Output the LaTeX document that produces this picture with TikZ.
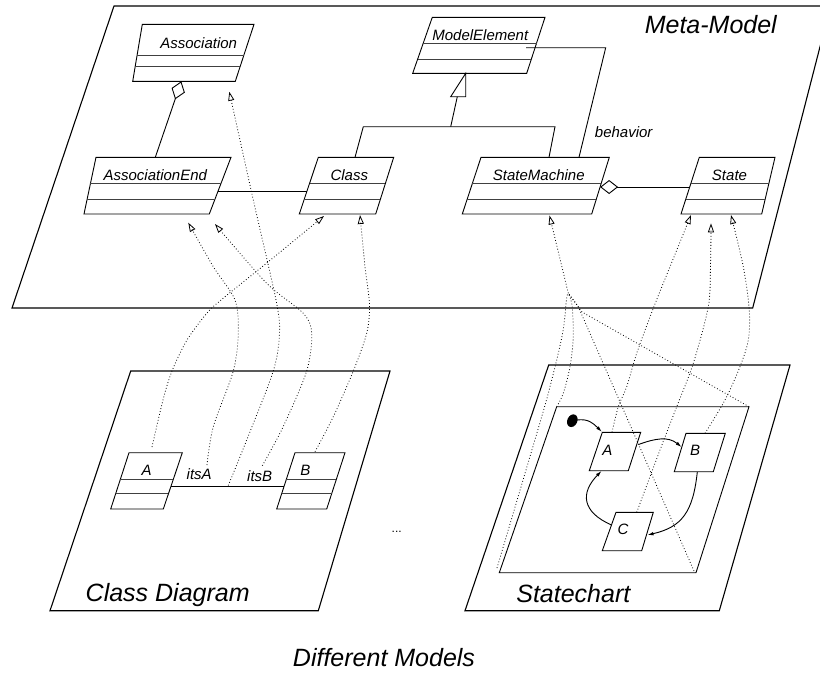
\documentclass[tikz,border=0pt]{standalone}
\usepackage{fontspec}
\setmainfont{Liberation Sans}
\usetikzlibrary{arrows.meta,calc}
\tikzset{
  plane/.style={line width=1.1pt, line join=miter},
  boxline/.style={line width=0.9pt},
  divline/.style={line width=0.9pt, black!75},
  assoc/.style={line width=0.9pt},
  depline/.style={line width=0.8pt, dash pattern=on 0.8pt off 2.2pt},
  dep/.style={depline, -{Triangle[open,length=9pt,width=6pt]}},
  trans/.style={line width=0.9pt, -{Latex[length=6pt,width=3.6pt]}},
  lbl/.style={font=\fontsize{15}{18}\selectfont\itshape, inner sep=0pt, anchor=base},
  ttl/.style={font=\fontsize{25}{30}\selectfont\itshape, inner sep=0pt, anchor=base},
  dots/.style={font=\fontsize{12}{14}\selectfont, inner sep=0pt, anchor=base},
}
\newcommand\umlbox[9]{%
  \coordinate (#1-tl) at (#2,#6);
  \coordinate (#1-tr) at (#3,#6);
  \coordinate (#1-br) at (#4,#7);
  \coordinate (#1-bl) at (#5,#7);
  \draw[boxline] (#1-tl) -- (#1-tr) -- (#1-br) -- (#1-bl) -- cycle;
  \pgfmathsetmacro\umlfa{(#7-#8)/(#7-#6)}%
  \pgfmathsetmacro\umlfb{(#7-#9)/(#7-#6)}%
  \draw[divline] ($(#1-bl)!\umlfa!(#1-tl)$) -- ($(#1-br)!\umlfa!(#1-tr)$);
  \draw[divline] ($(#1-bl)!\umlfb!(#1-tl)$) -- ($(#1-br)!\umlfb!(#1-tr)$);
}
\newcommand\stbox[7]{%
  \coordinate (#1-tl) at (#2,#6);
  \coordinate (#1-tr) at (#3,#6);
  \coordinate (#1-br) at (#4,#7);
  \coordinate (#1-bl) at (#5,#7);
  \draw[boxline] (#1-tl) -- (#1-tr) -- (#1-br) -- (#1-bl) -- cycle;
}
\begin{document}
\begin{tikzpicture}[x=1pt,y=-1pt]
\clip (0,0) rectangle (820,673);
\fill[white] (0,0) rectangle (820,673);

% ---------- planes ----------
\coordinate (mm-tl) at (114,6);
\coordinate (mm-tr) at (830.5,6);
\coordinate (mm-br) at (752.7,308);
\coordinate (mm-bl) at (12,308);
\draw[plane] (mm-tl) -- (mm-tr) -- (mm-br) -- (mm-bl) -- cycle;

\coordinate (cd-tl) at (130.7,371);
\coordinate (cd-tr) at (390,371);
\coordinate (cd-br) at (318.3,610.7);
\coordinate (cd-bl) at (50,610.7);
\draw[plane] (cd-tl) -- (cd-tr) -- (cd-br) -- (cd-bl) -- cycle;

\coordinate (sc-tl) at (548.7,365);
\coordinate (sc-tr) at (790,365);
\coordinate (sc-br) at (719.3,610.7);
\coordinate (sc-bl) at (465,610.7);
\draw[plane] (sc-tl) -- (sc-tr) -- (sc-br) -- (sc-bl) -- cycle;

\coordinate (in-tl) at (556.7,406.7);
\coordinate (in-tr) at (749,406.7);
\coordinate (in-br) at (696,572.7);
\coordinate (in-bl) at (499.3,572.7);
\draw[boxline] (in-tl) -- (in-tr) -- (in-br) -- (in-bl) -- cycle;

% ---------- meta-model classes ----------
\umlbox{asc}{142.3}{254}{235.3}{132.7}{24.3}{81.3}{55}{66.7}
\umlbox{me}{432.3}{545}{526.7}{412.7}{17.3}{73.3}{43.3}{59}
\umlbox{ae}{96}{231}{209.3}{84}{157.3}{214}{183.3}{199}
\umlbox{cls}{318.3}{393.7}{375.7}{299.3}{157.3}{214}{183.3}{199}
\umlbox{sm}{481}{609.3}{591.7}{462.3}{157.3}{214}{183.3}{199}
\umlbox{st}{699.3}{775}{761.7}{681}{157.3}{214}{183.3}{199}

\node[lbl] (tAsc) at (198.7,48.3) {Association};
\node[lbl] (tMe) at (480.3,40) {ModelElement};
\node[lbl] (tAe) at (155.3,180) {AssociationEnd};
\node[lbl] (tCls) at (349.3,180) {Class};
\node[lbl] (tSm) at (538.8,180) {StateMachine};
\node[lbl] (tSt) at (729.5,180) {State};
\node[ttl] (tMM) at (710.8,33.3) {Meta-Model};
\node[lbl] (tBeh) at (623.7,137.3) {behavior};

% aggregation Association <>-- AssociationEnd
\coordinate (aeTop) at (155.3,157.3);
\coordinate (ascBot) at (181.3,81.3);
\draw[assoc,-{Diamond[open,length=19pt,width=14pt]}] (aeTop) -- (ascBot);
% association AssociationEnd -- Class
\coordinate (aeR) at (218,191.3);
\coordinate (clsL) at (306.9,191.3);
\draw[assoc] (aeR) -- (clsL);
% generalization
\coordinate (clsTop) at (355,157.3);
\coordinate (genL) at (363.3,126.7);
\coordinate (genR) at (555,126.7);
\coordinate (smTop) at (549,157.3);
\coordinate (genStem) at (450.7,126.7);
\coordinate (triL) at (450.7,96.7);
\coordinate (triR) at (465.7,96.7);
\coordinate (triA) at (465.7,73.3);
\coordinate (triM) at (457.3,96.7);
\draw[assoc] (clsTop) -- (genL) -- (genR) -- (smTop);
\draw[assoc] (genStem) -- (triM);
\draw[assoc] (triL) -- (triR) -- (triA) -- cycle;
% behavior
\coordinate (meR) at (526,47.7);
\coordinate (behC) at (605.7,47.7);
\coordinate (smTop2) at (579,157.3);
\draw[assoc] (meR) -- (behC) -- (smTop2);
% composition StateMachine <>-- State
\coordinate (stL) at (689.6,187);
\coordinate (smR) at (600.1,187);
\draw[assoc,-{Diamond[open,length=18pt,width=14pt]}] (stL) -- (smR);

% ---------- class diagram ----------
\umlbox{ca}{129}{182.3}{163.3}{110.7}{452.7}{509}{479}{493.7}
\umlbox{cb}{295}{345}{326.7}{276.7}{452.7}{509}{479}{493.7}
\node[lbl] (tA) at (146.7,475) {A};
\node[lbl] (tB) at (305.3,475) {B};
\coordinate (caR) at (171.2,486);
\coordinate (cbL) at (283.5,486);
\draw[assoc] (caR) -- (cbL);
\node[lbl] (tItsA) at (199.2,479) {itsA};
\node[lbl] (tItsB) at (259.7,481.7) {itsB};
\node[ttl] (tCD) at (167.7,601.7) {Class Diagram};
\node[dots] (tDots) at (396.7,532) {...};

% ---------- statechart ----------
\stbox{sa}{602.3}{640.7}{628.3}{589.3}{432.3}{470.7}
\stbox{sb}{686}{725.3}{713.3}{674.3}{433.3}{471.7}
\stbox{sc}{616}{653.3}{641.7}{602.3}{512.3}{550.7}
\node[lbl] (tSA) at (607.3,455.7) {A};
\node[lbl] (tSB) at (695,455.7) {B};
\node[lbl] (tSC) at (623,534) {C};
\node[ttl] (tSC2) at (573.3,602.7) {Statechart};
\fill[rotate around={-25:(572.3,420.7)}] (572.3,420.7) coordinate (init) ellipse [x radius=5pt, y radius=6.6pt];
\coordinate (initR) at (577,420);
\coordinate (saTL) at (601.8,431.8);
\coordinate (saR) at (638.5,444.5);
\coordinate (sbL) at (681.5,447);
\coordinate (sbB) at (697.3,472);
\coordinate (scR) at (647.5,535);
\coordinate (scL) at (611.5,525);
\coordinate (saB) at (601.5,471);
\draw[trans] (initR) .. controls (588,418.5) and (593,423) .. (saTL);
\draw[trans] (saR) .. controls (655,438.5) and (668,436) .. (sbL);
\draw[trans] (sbB) .. controls (693,512) and (682,527) .. (scR);
\draw[trans] (scL) .. controls (582,512) and (580,493) .. (saB);

% ---------- instance-of dependencies (class diagram) ----------
\coordinate (d1s) at (152,447);
\coordinate (d1t) at (324,216);
\draw[dep] plot[smooth] coordinates {(d1s) (163,400) (172,371) (187,340) (207,313) (221,300) (268,262) (d1t)};
\coordinate (d2s) at (207,465);
\coordinate (d2t) at (188.3,222.7);
\draw[dep] plot[smooth] coordinates {(d2s) (213.3,426.7) (233.3,371) (238.3,333.3) (235,300) (213.3,266.7) (d2t)};
\coordinate (d3s) at (228.3,485.5);
\coordinate (d3t) at (229.3,91.7);
\draw[dep] plot[smooth] coordinates {(d3s) (246.7,440) (273.3,371) (279.5,333) (276,300) (253.3,200) (d3t)};
\coordinate (d4s) at (262.3,465.7);
\coordinate (d4t) at (215,224);
\draw[dep] plot[smooth] coordinates {(d4s) (283,427) (306.7,371) (311.7,333) (303,313) (266.7,283.3) (d4t)};
\coordinate (d5s) at (315,451.7);
\coordinate (d5t) at (360,215);
\draw[dep] plot[smooth] coordinates {(d5s) (333.3,416.7) (353.3,371) (366.7,333.3) (369.5,305) (365,266.7) (d5t)};

% ---------- instance-of dependencies (statechart) ----------
\coordinate (smconv) at (568.3,293.3);
\coordinate (smtip) at (549.5,215.5);
\draw[dep] (smconv) -- (smtip);
\coordinate (inBLd) at (497,568);
\draw[depline] plot[smooth] coordinates {(inBLd) (541.7,416.7) (551.7,380) (558.3,353.3) (563.5,328) (566.7,298) (smconv)};
\draw[depline] plot[smooth] coordinates {(in-tl) (563.3,393.3) (570,366.7) (573.3,336.7) (572,305) (smconv)};
\coordinate (inBRd) at (694,571);
\draw[depline] (inBRd) -- (578,306) -- (smconv);
\draw[depline] (in-tr) -- (582,312) -- (smconv);

\coordinate (saTop) at (612,432.3);
\coordinate (stTip1) at (691,215);
\draw[dep] plot[smooth] coordinates {(saTop) (618.3,406.7) (626.7,386.7) (636.7,353.3) (653.3,308.3) (670,266.7) (stTip1)};
\coordinate (scTop) at (636.7,512.3);
\coordinate (stTip2) at (711,223.3);
\draw[dep] plot[smooth] coordinates {(scTop) (660,450) (676.7,406.7) (693.3,363.3) (708.3,306.7) (710.5,266.7) (stTip2)};
\coordinate (sbTop) at (705,433.3);
\coordinate (stTip3) at (731,215);
\draw[dep] plot[smooth] coordinates {(sbTop) (725,400) (740,366.7) (748.3,340) (749.3,310) (743.3,266.7) (stTip3)};

\node[ttl] (tDM) at (384,666.7) {Different Models};
\end{tikzpicture}
\end{document}
